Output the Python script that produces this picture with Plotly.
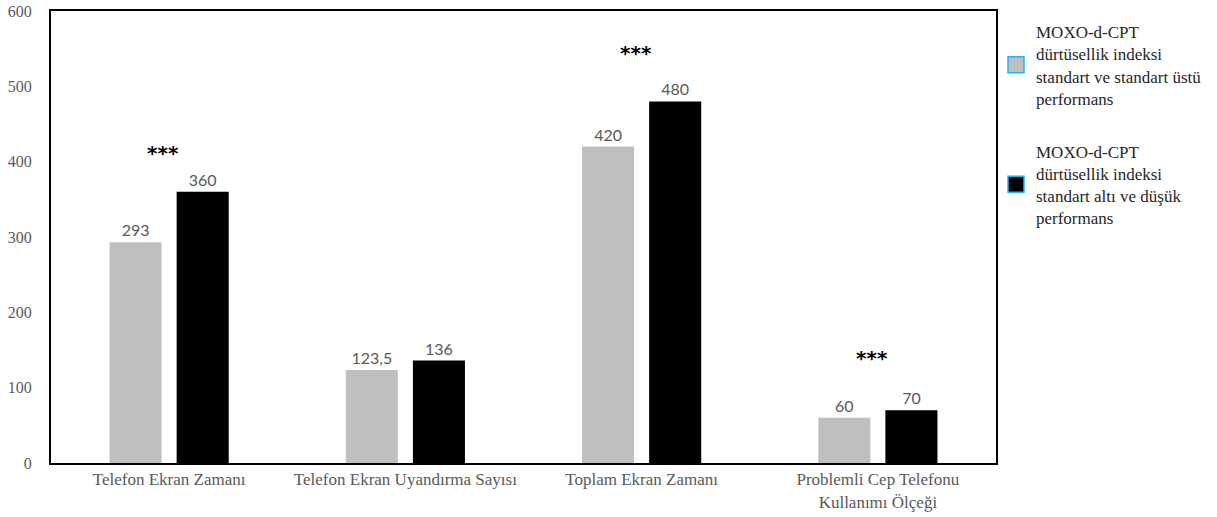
import plotly.graph_objects as go

# Measures compared between the two MOXO-d-CPT impulsivity groups
categories = [
    "Telefon Ekran Zamanı",
    "Telefon Ekran Uyandırma Sayısı",
    "Toplam Ekran Zamanı",
    "Problemli Cep Telefonu<br>Kullanımı Ölçeği",
]
group_high = [293, 123.5, 420, 60]   # standart ve standart üstü performans
group_low = [360, 136, 480, 70]      # standart altı ve düşük performans
label_high = ["293", "123,5", "420", "60"]
label_low = ["360", "136", "480", "70"]

series_names = [
    "MOXO-d-CPT<br>dürtüsellik indeksi<br>standart ve standart üstü<br>performans",
    "MOXO-d-CPT<br>dürtüsellik indeksi<br>standart altı ve düşük<br>performans",
]
series_colors = ["#bfbfbf", "#000000"]

# Significance markers: (category index, height in axis units)
significance = [(0, 413), (2, 546), (3, 141)]

SERIF = "Liberation Serif, Times New Roman, serif"
SANS = "Lato, Carlito, Arial, sans-serif"
STAR = "DejaVu Sans, sans-serif"

fig = go.Figure()

for vals, labels, color in [(group_high, label_high, series_colors[0]),
                            (group_low, label_low, series_colors[1])]:
    fig.add_trace(go.Bar(
        x=categories, y=vals, text=labels,
        textposition="outside", cliponaxis=False,
        textfont=dict(family=SANS, size=16, color="#595959"),
        marker=dict(color=color, line=dict(width=0)),
        showlegend=False,
    ))

# Legend entries with outlined square swatches
for i, (name, color) in enumerate(zip(series_names, series_colors)):
    fig.add_trace(go.Scatter(
        x=[None], y=[None], mode="markers", name=name,
        legendgroup=f"g{i}",
        marker=dict(symbol="square", size=16, color=color,
                    line=dict(color="#1eb4f0", width=1.5)),
    ))

for idx, yv in significance:
    fig.add_annotation(
        x=categories[idx], y=yv, text="<b>***</b>", showarrow=False,
        xshift=-6, yshift=-1, font=dict(family=STAR, size=20, color="#000000"),
    )

fig.update_layout(
    width=1217, height=517,
    margin=dict(l=51, r=221, t=11, b=54, autoexpand=False),
    paper_bgcolor="white", plot_bgcolor="white",
    barmode="group", bargap=0.432, bargroupgap=0.224,
    legend=dict(
        x=1.0, y=0.993, xanchor="left", yanchor="top",
        font=dict(family=SERIF, size=17, color="#262626"),
        bgcolor="rgba(0,0,0,0)", traceorder="grouped",
        tracegroupgap=28,
    ),
    xaxis=dict(
        showline=True, linecolor="black", linewidth=2, mirror=True,
        ticks="", showgrid=False, automargin=False,
        tickfont=dict(family=SERIF, size=17, color="#595959"),
    ),
    yaxis=dict(
        range=[0, 600], dtick=100, showline=True, linecolor="black",
        linewidth=2, mirror=True, ticks="", showgrid=False, zeroline=False,
        ticklabelstandoff=14, automargin=False,
        tickfont=dict(family=SERIF, size=16, color="#595959"),
    ),
)

fig.write_html("out.html")
